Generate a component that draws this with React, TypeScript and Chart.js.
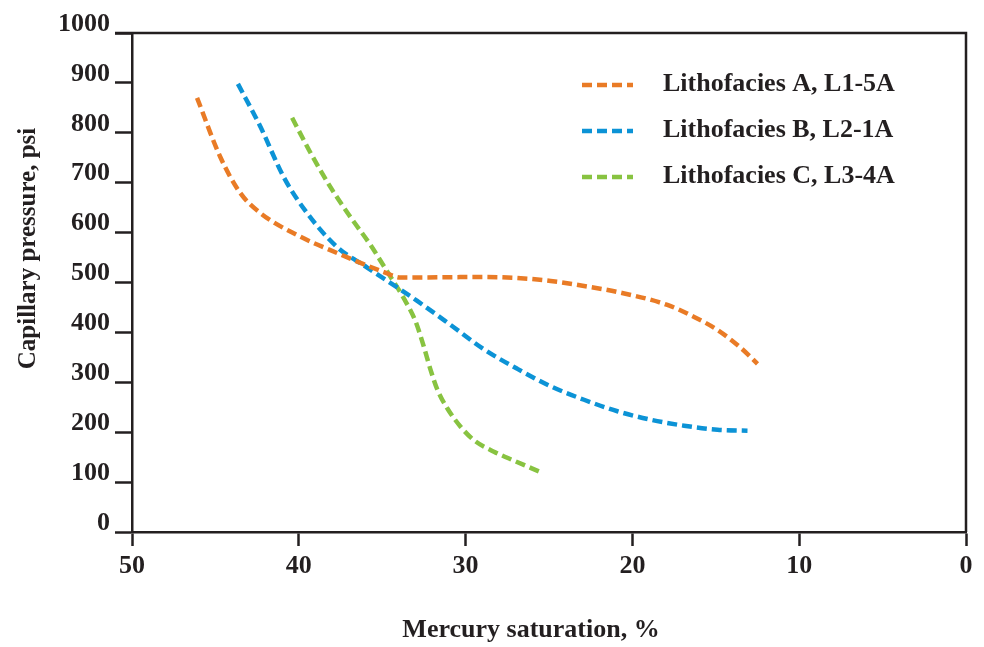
import React, { useEffect, useRef } from "react";
import { Chart, registerables } from "chart.js";

Chart.register(...registerables);

// ---- data ----
const seriesLabels = [
  "Lithofacies A, L1-5A",
  "Lithofacies B, L2-1A",
  "Lithofacies C, L3-4A",
];

const satA = [46.1, 44.7, 43.5, 42.3, 40.1, 37.7, 34.9, 33.9, 28.9, 26.9, 24.9, 22.9, 20.9, 17.9, 16.3, 14.9, 13.5, 12.5];
const pcA = [870, 751, 679, 639, 595, 559, 521, 510, 511, 509, 503, 493, 481, 455, 431, 405, 369, 337];

const satB = [43.65, 42.3, 40.9, 39.5, 37.7, 35.9, 34.1, 32.9, 30.9, 28.9, 26.9, 24.9, 22.9, 20.9, 18.9, 16.9, 14.9, 13.1];
const pcB = [898, 812, 711, 639, 571, 530, 490, 463, 415, 366, 327, 292, 265, 242, 225, 213, 205, 203];

const satC = [40.4, 39.3, 38.1, 36.9, 35.7, 34.7, 33.7, 33.0, 32.5, 32.1, 31.7, 31.1, 30.3, 29.5, 28.3, 27.1, 25.5];
const pcC = [830, 760, 691, 631, 575, 522, 468, 422, 371, 325, 286, 248, 211, 184, 161, 143, 120];

const xTitle = "Mercury saturation, %";
const yTitle = "Capillary pressure, psi";

const colors = ["#E97B26", "#0C93D6", "#88C341"];

const FONT = "'Liberation Serif', 'Times New Roman', serif";
const INK = "#231f20";

const pts = (xs: number[], ys: number[]) => xs.map((x, i) => ({ x, y: ys[i] }));

const overlay = {
  id: "overlay",
  afterDraw(chart: any) {
    const { ctx, chartArea: a } = chart;
    ctx.save();
    // top & right frame
    ctx.strokeStyle = INK;
    ctx.lineWidth = 2.5;
    ctx.beginPath();
    ctx.moveTo(a.left - 17, a.top);
    ctx.lineTo(a.right, a.top);
    ctx.lineTo(a.right, a.bottom);
    ctx.stroke();

    // legend
    chart.data.datasets.forEach((ds: any, i: number) => {
      const y = a.top + 52 + i * 46;
      ctx.strokeStyle = ds.borderColor;
      ctx.lineWidth = 4.5;
      ctx.setLineDash([10, 5]);
      ctx.beginPath();
      ctx.moveTo(a.left + 450, y);
      ctx.lineTo(a.left + 501, y);
      ctx.stroke();
      ctx.setLineDash([]);
      ctx.fillStyle = INK;
      ctx.font = `bold 26px ${FONT}`;
      ctx.textAlign = "left";
      ctx.textBaseline = "middle";
      ctx.fillText(ds.label, a.left + 531, y - 1);
    });

    // axis titles
    ctx.fillStyle = INK;
    ctx.font = `bold 26px ${FONT}`;
    ctx.textAlign = "center";
    ctx.textBaseline = "middle";
    ctx.fillText(xTitle, (a.left + a.right) / 2 - 18, a.bottom + 98);
    ctx.save();
    ctx.translate(29, (a.top + a.bottom) / 2 - 34);
    ctx.rotate(-Math.PI / 2);
    ctx.font = `bold 25px ${FONT}`;
    ctx.fillText(yTitle, 0, 0);
    ctx.restore();
    ctx.restore();
  },
};

export default function App() {
  const ref = useRef<HTMLCanvasElement | null>(null);

  useEffect(() => {
    if (!ref.current) return;
    const mk = (i: number, xs: number[], ys: number[]) => ({
      label: seriesLabels[i],
      data: pts(xs, ys),
      borderColor: colors[i],
      backgroundColor: colors[i],
      borderWidth: 4.5,
      borderDash: [10, 5],
      borderCapStyle: "butt" as const,
      pointRadius: 0,
      fill: false,
      cubicInterpolationMode: "monotone" as const,
    });
    const chart = new Chart(ref.current, {
      type: "line",
      data: {
        datasets: [mk(0, satA, pcA), mk(1, satB, pcB), mk(2, satC, pcC)],
      },
      options: {
        responsive: false,
        animation: false,
        layout: { padding: { left: 0, top: 33, right: 18, bottom: 0 } },
        plugins: { legend: { display: false }, tooltip: { enabled: false } },
        scales: {
          x: {
            type: "linear",
            reverse: true,
            min: 0,
            max: 50,
            afterFit: (s: any) => {
              s.height = 115;
            },
            ticks: {
              stepSize: 10,
              padding: 5,
              color: INK,
              callback: (v: any) => String(v),
              font: { family: FONT, size: 26, weight: "bold" },
            },
            grid: {
              drawOnChartArea: false,
              drawTicks: true,
              tickLength: 14,
              tickWidth: 2.5,
              tickColor: INK,
            },
            border: { display: true, color: INK, width: 2.5 },
          },
          y: {
            type: "linear",
            min: 0,
            max: 1000,
            afterFit: (s: any) => {
              s.width = 132;
            },
            ticks: {
              stepSize: 100,
              padding: 5,
              labelOffset: -9,
              color: INK,
              callback: (v: any) => String(v),
              font: { family: FONT, size: 26, weight: "bold" },
            },
            grid: {
              drawOnChartArea: false,
              drawTicks: true,
              tickLength: 17,
              tickWidth: 2.5,
              tickColor: INK,
            },
            border: { display: true, color: INK, width: 2.5 },
          },
        },
      },
      plugins: [overlay],
    });
    return () => chart.destroy();
  }, []);

  return (
    <div style={{ position: "absolute", left: 0, top: 0, width: 984, height: 647, background: "#fff" }}>
      <canvas ref={ref} width={984} height={647} style={{ display: "block" }} />
    </div>
  );
}
